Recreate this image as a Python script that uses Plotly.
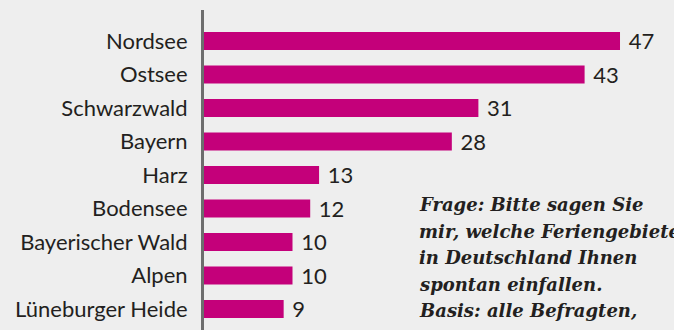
import plotly.graph_objects as go

categories = ["Nordsee", "Ostsee", "Schwarzwald", "Bayern", "Harz", "Bodensee",
              "Bayerischer Wald", "Alpen", "Lüneburger Heide"]
values = [47, 43, 31, 28, 13, 12, 10, 10, 9]

note_lines = ["Frage: Bitte sagen Sie",
              "mir, welche Feriengebiete",
              "in Deutschland Ihnen",
              "spontan einfallen.",
              "Basis: alle Befragten,",
              "n = 1.005"]

BG = "#eeeeee"
BAR = "#c4007a"
TXT = "#231f20"
FONT = "Lato"

fig = go.Figure(go.Bar(
    x=values, y=categories, orientation="h",
    marker=dict(color=BAR, line=dict(width=0)),
    width=0.54,
    text=values, texttemplate=" %{x}", textposition="outside",
    constraintext="none",
    textfont=dict(family=FONT, size=22, color=TXT),
    cliponaxis=False,
))

annotations = []
first_center = 204.5
line_gap = 26.5
for i, line in enumerate(note_lines):
    py = first_center + i * line_gap
    annotations.append(dict(
        xref="paper", yref="paper", x=(417 - 204) / 470, y=(330 - py) / 320,
        xanchor="left", yanchor="middle", align="left",
        text="<b><i>%s</i></b>" % line, showarrow=False,
        font=dict(family="DejaVu Serif", size=18, color=TXT),
    ))

fig.update_layout(
    width=674, height=330,
    margin=dict(l=204, r=0, t=10, b=0),
    paper_bgcolor=BG, plot_bgcolor=BG,
    showlegend=False,
    xaxis=dict(range=[0, 53.1], visible=False, fixedrange=True),
    yaxis=dict(
        categoryorder="array", categoryarray=categories,
        range=[8.627, -0.925],
        showline=True, linecolor="#6d6d6d", linewidth=3,
        showgrid=False, zeroline=False,
        ticks="outside", ticklen=9, tickcolor="rgba(0,0,0,0)",
        tickfont=dict(family=FONT, size=22, color=TXT),
    ),
    annotations=annotations,
)

fig.write_html("out.html")
